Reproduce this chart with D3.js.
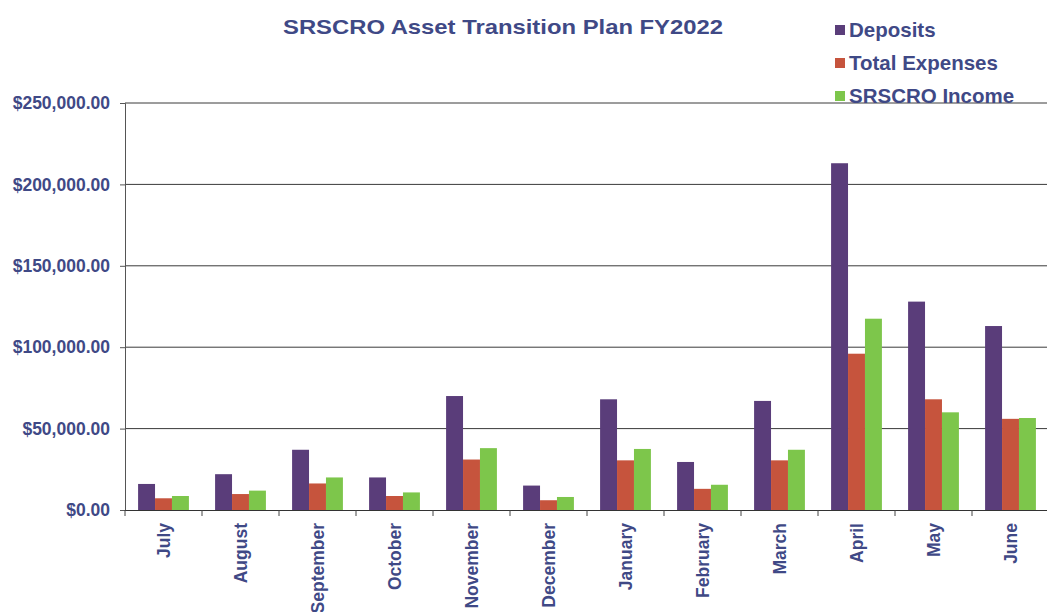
<!DOCTYPE html>
<html><head><meta charset="utf-8">
<script src="https://cdn.jsdelivr.net/npm/d3@7"></script>
<style>
html,body{margin:0;padding:0;background:#fff;}
svg{display:block;}
text{font-family:"Liberation Sans",Arial,sans-serif;font-weight:bold;}
</style></head>
<body>
<svg id="chart" width="1047" height="612"></svg>
<script>
const months = ["July","August","September","October","November","December","January","February","March","April","May","June"];
const seriesNames = ["Deposits","Total Expenses","SRSCRO Income"];
const deposits = [16000, 22000, 37000, 20000, 70000, 15000, 68000, 29500, 67000, 213000, 128000, 113000];
const expenses = [7200, 9800, 16300, 8600, 31000, 6000, 30500, 13000, 30500, 96000, 68000, 56000];
const income = [8600, 11900, 20000, 10800, 38000, 8000, 37500, 15500, 37000, 117500, 60000, 56500];
const yTicks = [0, 50000, 100000, 150000, 200000, 250000];
const colors = ["#5a3d7a", "#c6543d", "#7dc64b"];
const textColor = "#3f4986";

const seriesValues = [deposits, expenses, income];
const svg = d3.select("#chart");
const plotLeft = 125, plotRight = 1049, plotTop = 103, plotBottom = 510;

const x = d3.scaleBand().domain(months).range([plotLeft, plotRight]).paddingInner(0.34).paddingOuter(0.17);
const xs = d3.scaleBand().domain(seriesNames).range([0, x.bandwidth()]).padding(0);
const y = d3.scaleLinear().domain([0, 250000]).range([plotBottom, plotTop]);
const fmt = v => "$" + d3.format(",.2f")(v);

// gridlines
svg.append("g").selectAll("line").data(yTicks.filter(d => d > 0)).join("line")
  .attr("x1", plotLeft).attr("x2", 1047)
  .attr("y1", d => y(d)).attr("y2", d => y(d))
  .attr("stroke", "#3a3a3a").attr("stroke-width", 1);

// bars
const groups = svg.append("g").selectAll("g").data(months).join("g")
  .attr("transform", d => `translate(${x(d)},0)`);
groups.selectAll("rect").data((m, i) => seriesNames.map((s, k) => ({s, k, v: seriesValues[k][i]}))).join("rect")
  .attr("x", d => xs(d.s)).attr("width", xs.bandwidth())
  .attr("y", d => y(d.v)).attr("height", d => y(0) - y(d.v))
  .attr("fill", d => colors[d.k]);

// y axis
const yAxis = svg.append("g").attr("transform", `translate(${plotLeft},0)`)
  .call(d3.axisLeft(y).tickValues(yTicks).tickFormat(fmt).tickSize(5).tickPadding(10));
yAxis.select(".domain").attr("stroke", "#555");
yAxis.selectAll(".tick line").attr("stroke", "#555");
yAxis.selectAll("text").attr("fill", textColor).attr("font-size", 17.5);

// x axis
const xAxis = svg.append("g").attr("transform", `translate(0,${plotBottom})`)
  .call(d3.axisBottom(x).tickSize(0).tickSizeOuter(0));
xAxis.select(".domain").attr("stroke", "#333").attr("d", `M${plotLeft},0.5H1047`);
xAxis.selectAll(".tick text")
  .attr("transform", "rotate(-90)")
  .attr("x", -13).attr("y", 0).attr("dy", "0.35em")
  .attr("text-anchor", "end")
  .attr("fill", textColor).attr("font-size", 17.5);
// boundary ticks
const bounds = months.map(m => x(m) - x.step() * x.paddingInner() / 2).concat([plotRight]);
svg.append("g").selectAll("line").data(bounds.filter(b => b <= 1047)).join("line")
  .attr("x1", d => d).attr("x2", d => d)
  .attr("y1", plotBottom).attr("y2", plotBottom + 6)
  .attr("stroke", "#444");

// title
svg.append("text").attr("x", 503).attr("y", 34).attr("text-anchor", "middle")
  .attr("font-size", 21).attr("fill", textColor)
  .attr("textLength", 440).attr("lengthAdjust", "spacingAndGlyphs")
  .text("SRSCRO Asset Transition Plan FY2022");

// legend
const lg = svg.append("g").selectAll("g").data(seriesNames).join("g")
  .attr("transform", (d, i) => `translate(835,${30 + i * 33})`);
lg.append("rect").attr("x", 0).attr("y", -5).attr("width", 10).attr("height", 10)
  .attr("fill", (d, i) => colors[i]);
lg.append("text").attr("x", 14).attr("y", 0).attr("dy", "0.35em")
  .attr("font-size", 20.5).attr("fill", textColor).text(d => d);
</script>
</body></html>
